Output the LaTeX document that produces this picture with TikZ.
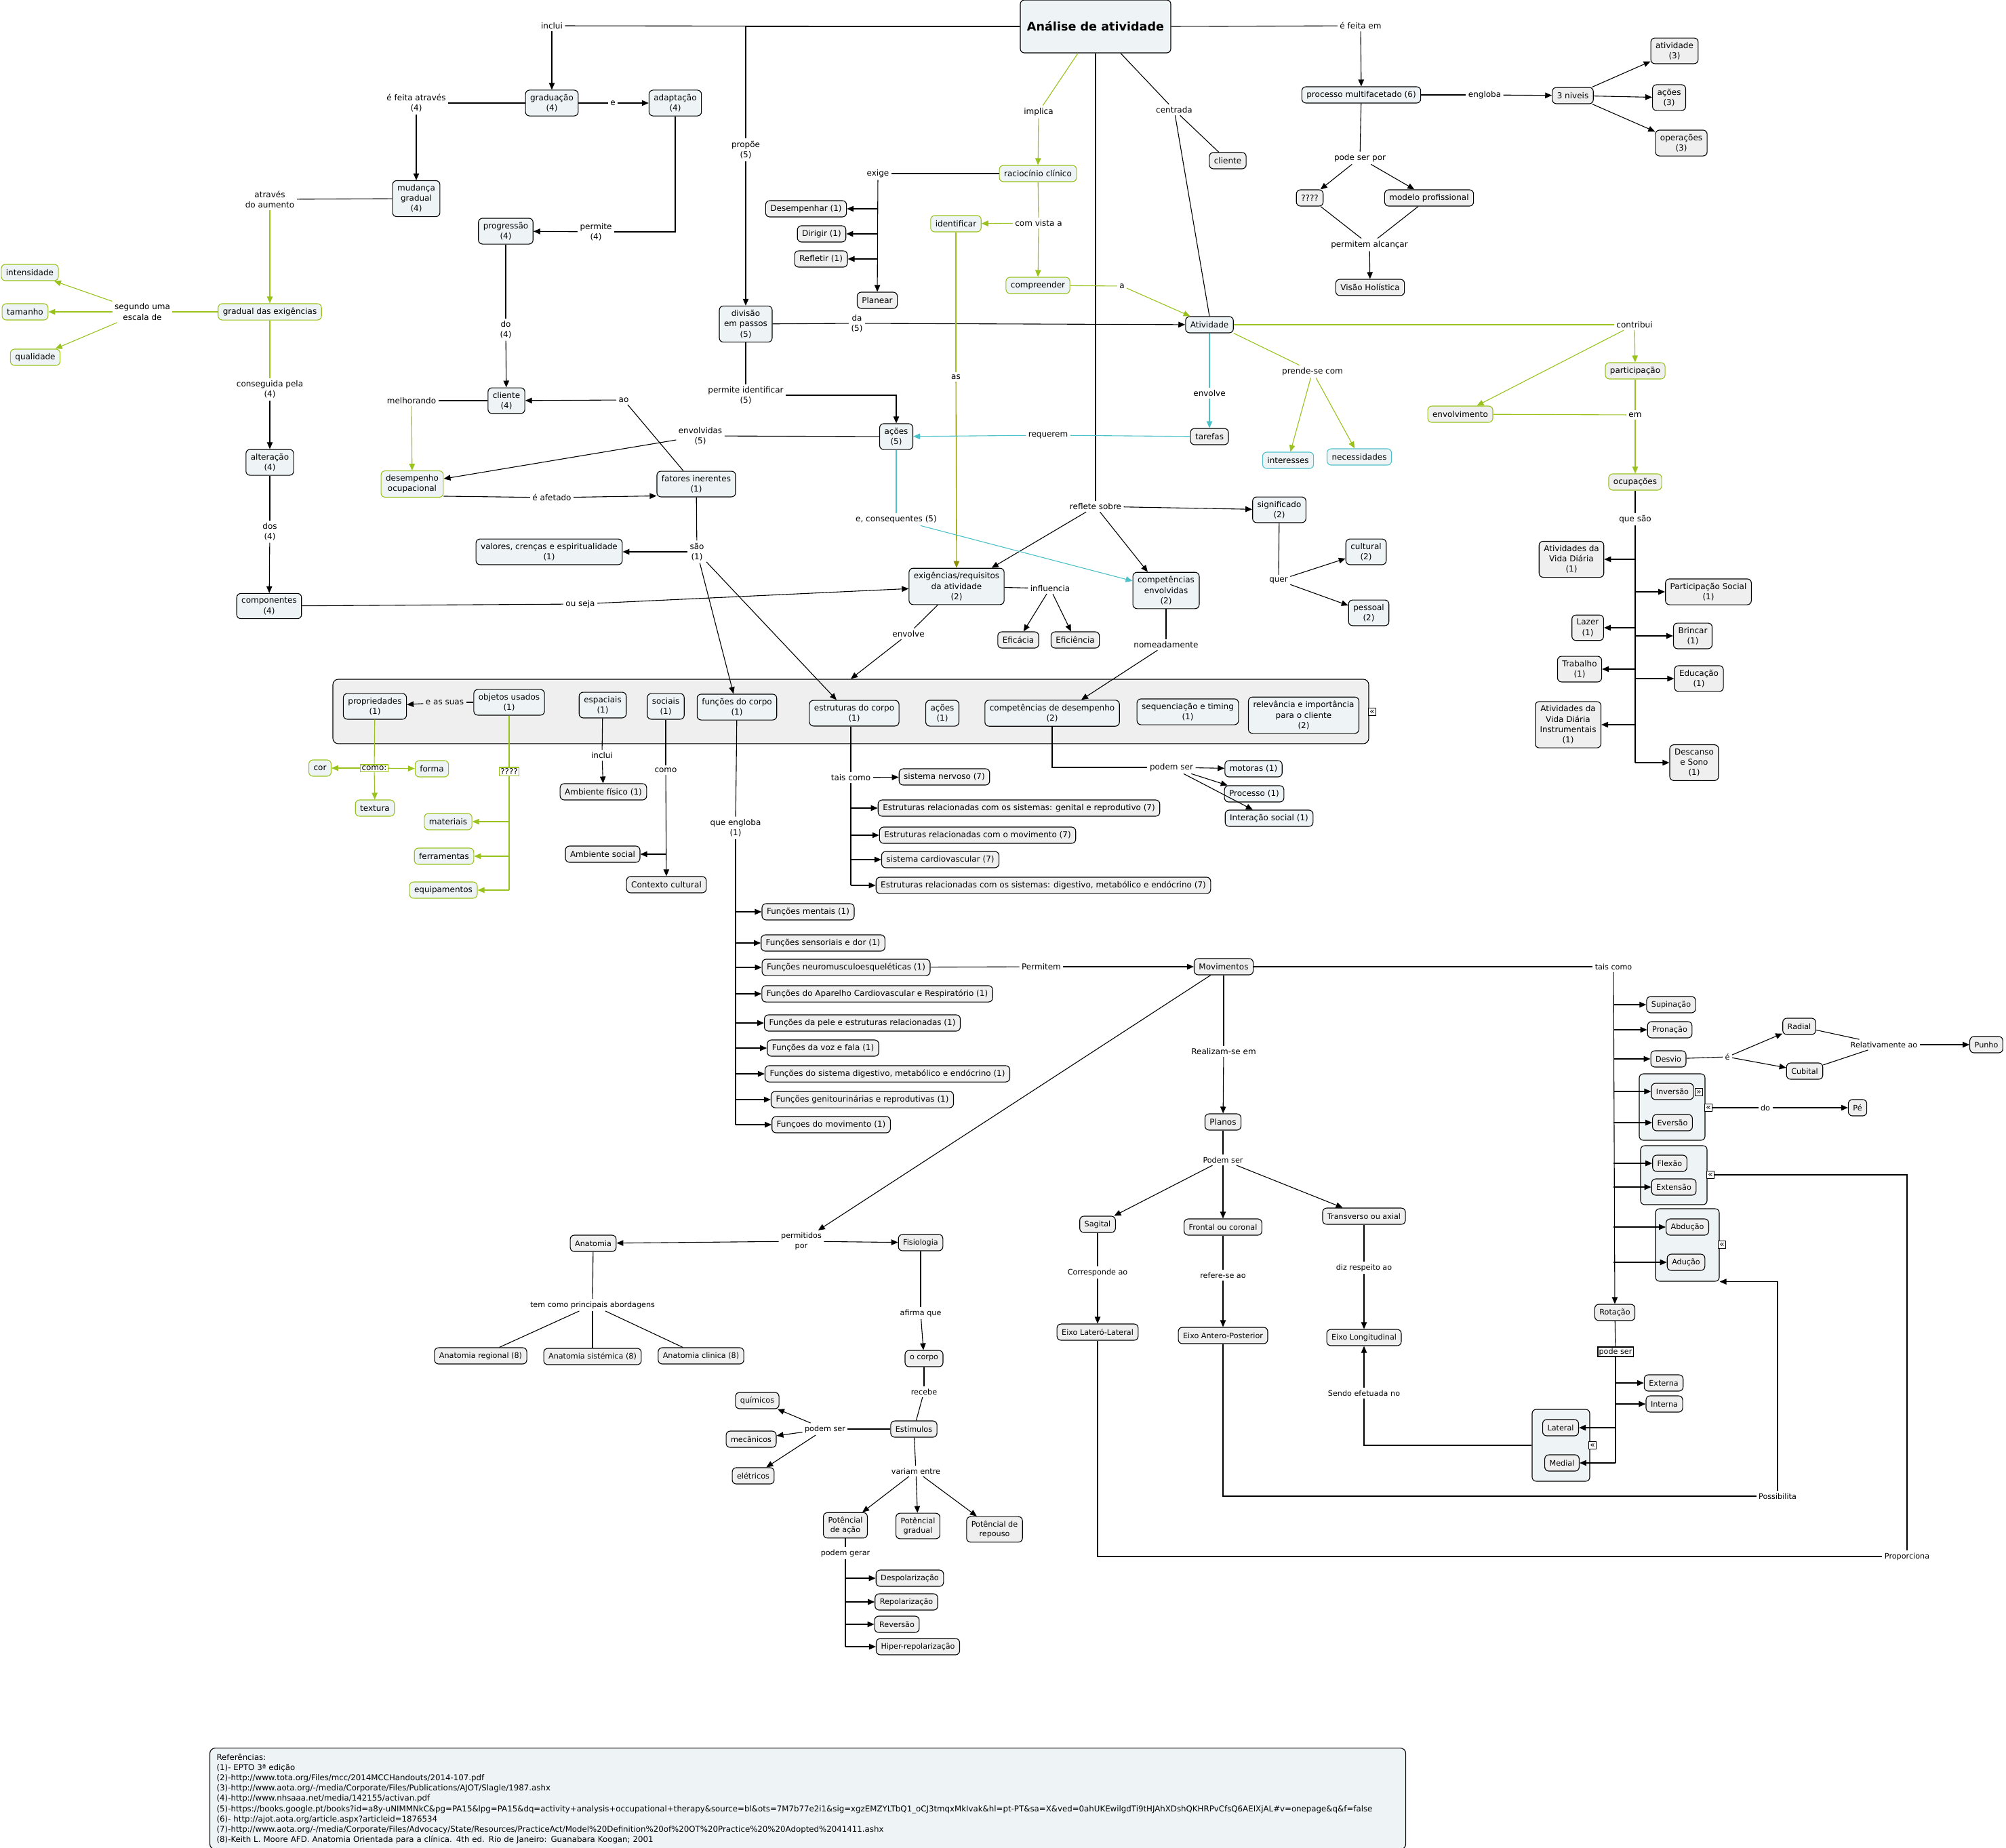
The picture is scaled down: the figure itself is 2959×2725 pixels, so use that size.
\documentclass[tikz,border=0pt]{standalone}
\usepackage{fontspec}
\setmainfont{DejaVu Sans}
\usepackage{xcolor}
\usetikzlibrary{arrows.meta}
\definecolor{cblue}{HTML}{EEF4F6}
\definecolor{cgrey}{HTML}{EFEFEF}
\definecolor{cgreen}{HTML}{99C31C}
\definecolor{cteal}{HTML}{4DC1C8}
\definecolor{colive}{HTML}{8C8C00}
\newcommand\cmfont{\fontsize{6}{7.6}\selectfont}
\newcommand\cmsmall{\fontsize{5.6}{7.2}\selectfont}
\newcommand\cmtitle{\fontsize{8.8}{10}\selectfont\bfseries}
\begin{document}
\begin{tikzpicture}[x=0.5pt,y=-0.5pt,line width=0.55pt]
\tikzstyle{cn}=[draw=black,fill=cblue,rounded corners=3pt,align=center,inner xsep=3.5pt,inner ysep=3pt,minimum height=12pt,font=\cmfont]
\tikzstyle{cg}=[cn,fill=cgrey]
\tikzstyle{cgn}=[cn,draw=cgreen]
\tikzstyle{cgg}=[cg,draw=cgreen]
\tikzstyle{ct}=[cn,draw=cteal]
\tikzstyle{lb}=[align=center,inner sep=1.5pt,font=\cmfont]
\tikzstyle{lbg}=[lb,draw=cgreen,fill=white,inner sep=0.8pt]
\tikzstyle{lbk}=[lb,draw=black,fill=white,inner sep=0.8pt]
\tikzstyle{sm}=[font=\cmsmall]
\tikzstyle{grp}=[draw=black,fill=cblue,rounded corners=3pt,inner sep=0pt]
\tikzstyle{contbox}=[draw=black,fill=cgrey,rounded corners=4pt,inner sep=0pt]
\tikzstyle{icon}=[draw=black,fill=white,inner sep=0.4pt,minimum size=5.5pt,font=\fontsize{6}{6}\selectfont]
\tikzstyle{refbox}=[draw=black,fill=cblue,rounded corners=4pt,align=left,text width=872pt,inner xsep=5pt,inner ysep=4pt,minimum height=72pt,font=\fontsize{5.9}{7.6}\selectfont]
\tikzstyle{arr}=[-{Triangle[length=5pt,width=4.2pt]}]
\tikzstyle{gline}=[cgreen]
\tikzstyle{garr}=[arr,cgreen]
\tikzstyle{tline}=[cteal]
\tikzstyle{tarr}=[arr,cteal]
\tikzstyle{oarr}=[arr,colive]
\fill[white] (0,0) rectangle (2959,2725);
\useasboundingbox (0,0) rectangle (2959,2725);
\node[contbox,minimum width=764pt,minimum height=47.5pt] (cont) at (1255,1049.5) {};
\node[grp,minimum width=48.5pt,minimum height=49pt] (grp1) at (2466.5,1633) {};
\node[grp,minimum width=49pt,minimum height=43.5pt] (grp2) at (2469,1733.5) {};
\node[grp,minimum width=47pt,minimum height=53.5pt] (grp3) at (2489,1836.5) {};
\node[grp,minimum width=42.5pt,minimum height=53pt] (grp4) at (2302.5,2132) {};
\node[cn,font=\cmtitle,minimum width=111pt,minimum height=39pt] (ana) at (1616,39) {Análise de atividade};
\node[lb] (inclui) at (814,38) {inclui};
\node[lb] (propoe) at (1100,221) {propõe\\(5)};
\node[lb] (implica) at (1532,165) {implica};
\node[lb] (centrada) at (1732,162) {centrada};
\node[lb] (efeita) at (2007,38) {é feita em};
\node[cn] (grad) at (814,152) {graduação\\(4)};
\node[cn] (adapt) at (996,152) {adaptação\\(4)};
\node[lb] (lbe) at (904,152) {e};
\node[lb] (efeita2) at (614,152) {é feita através\\(4)};
\node[cn] (mud) at (614,293) {mudança\\gradual\\(4)};
\node[lb] (permite) at (879,342) {permite\\(4)};
\node[cn] (prog) at (746,341) {progressão\\(4)};
\node[lb] (atraves) at (398,294) {através\\do aumento};
\node[cgn] (gradex) at (398,460) {gradual das exigências};
\node[lb] (segundo) at (210,460) {segundo uma\\escala de};
\node[cgn] (intens) at (44,402) {intensidade};
\node[cgn] (tam) at (37,460) {tamanho};
\node[cgn] (qual) at (52,527) {qualidade};
\node[lb] (conseg) at (398,574) {conseguida pela\\(4)};
\node[cn] (alter) at (398,682) {alteração\\(4)};
\node[lb] (dos) at (398,784) {dos\\(4)};
\node[cn] (comp) at (397,894) {componentes\\(4)};
\node[lb] (ouseja) at (856,891) {ou seja};
\node[lb] (do4) at (746,486) {do\\(4)};
\node[cn] (cli4) at (747,591) {cliente\\(4)};
\node[lb] (melh) at (607,591) {melhorando};
\node[cgn] (desemp) at (608,714) {desempenho\\ocupacional};
\node[lb] (ao) at (920,590) {ao};
\node[lb] (envolv5) at (1033,643) {envolvidas\\(5)};
\node[lb] (afet) at (814,734) {é afetado};
\node[cn] (fat) at (1027,714) {fatores inerentes\\(1)};
\node[lb] (sao) at (1028,814) {são\\(1)};
\node[cn] (valores) at (810,814) {valores, crenças e espiritualidade\\(1)};
\node[cn] (div) at (1100,478) {divisão\\em passos\\(5)};
\node[lb] (da) at (1264,477) {da\\(5)};
\node[lb] (permid) at (1100,583) {permite identificar\\(5)};
\node[cn] (acoes5) at (1322,644) {ações\\(5)};
\node[cgn] (rac) at (1531,256) {raciocínio clínico};
\node[lb] (exige) at (1295,256) {exige};
\node[cg] (desemph) at (1189,308) {Desempenhar (1)};
\node[cg] (dirigir) at (1212,345) {Dirigir (1)};
\node[cg] (refletir) at (1211,382) {Refletir (1)};
\node[cg] (planear) at (1294,443) {Planear};
\node[lb] (comvista) at (1532,329) {com vista a};
\node[cgn] (ident) at (1410,330) {identificar};
\node[cgn] (compr) at (1531,421) {compreender};
\node[lb] (lba) at (1655,422) {a};
\node[cn] (ativ) at (1784,479) {Atividade};
\node[cg] (cliente) at (1811,237) {cliente};
\node[lb] (lbas) at (1410,556) {as};
\node[cg] (tarefas) at (1784,644) {tarefas};
\node[lb] (requerem) at (1546,642) {requerem};
\node[lb] (envolve) at (1784,580) {envolve};
\node[lb] (prende) at (1936,548) {prende-se com};
\node[ct] (inter) at (1900,679) {interesses};
\node[ct] (neces) at (2005,674) {necessidades};
\node[lb] (contrib) at (2411,479) {contribui};
\node[cgg] (envolvim) at (2154,611) {envolvimento};
\node[cgg] (partic) at (2412,547) {participação};
\node[lb] (em) at (2412,612) {em};
\node[cgg] (ocup) at (2412,711) {ocupações};
\node[lb] (quesao) at (2412,766) {que são};
\node[cg] (avd) at (2318,825) {Atividades da\\Vida Diária\\(1)};
\node[cg] (partsoc) at (2520,873) {Participação Social\\(1)};
\node[cg] (lazer) at (2342,926) {Lazer\\(1)};
\node[cg] (brincar) at (2497,938) {Brincar\\(1)};
\node[cg] (trab) at (2330,987) {Trabalho\\(1)};
\node[cg] (educ) at (2506,1001) {Educação\\(1)};
\node[cg] (avdi) at (2313,1069) {Atividades da\\Vida Diária\\Instrumentais\\(1)};
\node[cg] (desc) at (2499,1125) {Descanso\\e Sono\\(1)};
\node[cn] (processo) at (2008,140) {processo multifacetado (6)};
\node[lb] (engloba) at (2190,140) {engloba};
\node[cg] (niveis) at (2320,141) {3 niveis};
\node[cg] (ativ3) at (2470,75) {atividade\\(3)};
\node[cg] (acoes3) at (2462,144) {ações\\(3)};
\node[cg] (oper3) at (2480,211) {operações\\(3)};
\node[lb] (podeser) at (2006,233) {pode ser por};
\node[cg] (qqq) at (1932,292) {????};
\node[cg] (modelo) at (2108,292) {modelo profissional};
\node[lb] (permal) at (2020,361) {permitem alcançar};
\node[cg] (visao) at (2021,424) {Visão Holística};
\node[lb] (reflete) at (1616,747) {reflete sobre};
\node[cn] (exig) at (1411,865) {exigências/requisitos\\da atividade\\(2)};
\node[cn] (compenv) at (1720,871) {competências\\envolvidas\\(2)};
\node[cn] (signif) at (1887,752) {significado\\(2)};
\node[lb] (quer) at (1886,856) {quer};
\node[cn] (cult) at (2015,814) {cultural\\(2)};
\node[cn] (pess) at (2019,904) {pessoal\\(2)};
\node[lb] (consq) at (1322,766) {e, consequentes (5)};
\node[lb] (influ) at (1549,868) {influencia};
\node[cg] (efica) at (1502,944) {Eficácia};
\node[cg] (efici) at (1586,944) {Eficiência};
\node[lb] (envolve2) at (1340,935) {envolve};
\node[lb] (nomead) at (1720,951) {nomeadamente};
\node[cn] (prop) at (553,1042) {propriedades\\(1)};
\node[cn] (objetos) at (751,1036) {objetos usados\\(1)};
\node[lb] (easuas) at (656,1036) {e as suas};
\node[cn] (espac) at (889,1040) {espaciais\\(1)};
\node[cn] (sociais) at (982,1042) {sociais\\(1)};
\node[cn] (funcorpo) at (1087,1043) {funções do corpo\\(1)};
\node[cn] (estrut) at (1260,1052) {estruturas do corpo\\(1)};
\node[cn] (acoes1) at (1390,1052) {ações\\(1)};
\node[cn] (compdes) at (1552,1052) {competências de desempenho\\(2)};
\node[cn] (seq) at (1752,1050) {sequenciação e timing\\(1)};
\node[cn] (relev) at (1923,1055) {relevância e importância\\para o cliente\\(2)};
\node[icon] (ic0) at (2024,1050) {«};
\node[lbg] (como) at (552,1133) {como:};
\node[cgn] (cor) at (472,1133) {cor};
\node[cgn] (forma) at (637,1134) {forma};
\node[cgn] (textura) at (553,1192) {textura};
\node[lbg] (qqq2) at (751,1138) {????};
\node[cgn] (mater) at (661,1212) {materiais};
\node[cgn] (ferr) at (655,1263) {ferramentas};
\node[cgn] (equip) at (654,1313) {equipamentos};
\node[lb] (inclui2) at (888,1114) {inclui};
\node[cg] (ambfis) at (890,1168) {Ambiente físico (1)};
\node[lb] (como2) at (982,1136) {como};
\node[cg] (ambsoc) at (889,1260) {Ambiente social};
\node[cg] (contcult) at (983,1305) {Contexto cultural};
\node[lb] (engloba2) at (1085,1221) {que engloba\\(1)};
\node[cg] (fm) at (1192,1345) {Funções mentais (1)};
\node[cg] (fs) at (1214,1391) {Funções sensoriais e dor (1)};
\node[cg] (fn) at (1248,1427) {Funções neuromusculoesqueléticas (1)};
\node[cg] (fc) at (1294,1466) {Funções do Aparelho Cardiovascular e Respiratório (1)};
\node[cg] (fp) at (1272,1509) {Funções da pele e estruturas relacionadas (1)};
\node[cg] (fv) at (1214,1546) {Funções da voz e fala (1)};
\node[cg] (fd) at (1309,1584) {Funções do sistema digestivo, metabólico e endócrino (1)};
\node[cg] (fg) at (1272,1622) {Funções genitourinárias e reprodutivas (1)};
\node[cg] (fmov) at (1226,1659) {Funçoes do movimento (1)};
\node[lb] (taiscomo) at (1255,1147) {tais como};
\node[cg] (sn) at (1393,1146) {sistema nervoso (7)};
\node[cg] (eg) at (1503,1192) {Estruturas relacionadas com os sistemas: genital e reprodutivo (7)};
\node[cg] (em7) at (1442,1232) {Estruturas relacionadas com o movimento (7)};
\node[cg] (sc) at (1387,1268) {sistema cardiovascular (7)};
\node[cg] (ed) at (1539,1306) {Estruturas relacionadas com os sistemas: digestivo, metabólico e endócrino (7)};
\node[lb] (podemser) at (1728,1132) {podem ser};
\node[cn] (motoras) at (1849,1134) {motoras (1)};
\node[cn] (processo1) at (1850,1171) {Processo (1)};
\node[cn] (intsoc) at (1872,1207) {Interação social (1)};
\node[lb] (permitem) at (1536,1426) {Permitem};
\node[cg] (mov) at (1805,1426) {Movimentos};
\node[lb] (realiz) at (1805,1551) {Realizam-se em};
\node[cg] (planos) at (1804,1655) {Planos};
\node[lb,sm] (permpor) at (1182,1831) {permitidos\\por};
\node[cg,sm] (anat) at (875,1834) {Anatomia};
\node[cg,sm] (fisio) at (1358,1833) {Fisiologia};
\node[lb,sm] (temcomo) at (874,1925) {tem como principais abordagens};
\node[cg,sm] (areg) at (709,2000) {Anatomia regional (8)};
\node[cg,sm] (asis) at (874,2001) {Anatomia sistémica (8)};
\node[cg,sm] (acli) at (1034,2000) {Anatomia clinica (8)};
\node[lb,sm] (afirma) at (1358,1937) {afirma que};
\node[cg,sm] (ocorpo) at (1363,2004) {o corpo};
\node[lb,sm] (recebe) at (1363,2053) {recebe};
\node[cg,sm] (estim) at (1348,2108) {Estímulos};
\node[lb,sm] (podemser2) at (1217,2108) {podem ser};
\node[cg,sm] (quim) at (1117,2066) {químicos};
\node[cg,sm] (mec) at (1108,2123) {mecânicos};
\node[cg,sm] (elet) at (1111,2177) {elétricos};
\node[lb,sm] (variam) at (1351,2170) {variam entre};
\node[cg,sm] (pacao) at (1247,2250) {Potêncial\\de ação};
\node[cg,sm] (pgrad) at (1354,2251) {Potêncial\\gradual};
\node[cg,sm] (prep) at (1467,2256) {Potêncial de\\repouso};
\node[lb,sm] (podemgerar) at (1247,2291) {podem gerar};
\node[cg,sm] (despol) at (1342,2328) {Despolarização};
\node[cg,sm] (repol) at (1337,2363) {Repolarização};
\node[cg,sm] (revers) at (1323,2396) {Reversão};
\node[cg,sm] (hiper) at (1354,2429) {Hiper-repolarização};
\node[lb,sm] (podemser3) at (1804,1711) {Podem ser};
\node[cg,sm] (sag) at (1619,1806) {Sagital};
\node[cg,sm] (front) at (1804,1810) {Frontal ou coronal};
\node[cg,sm] (transv) at (2012,1794) {Transverso ou axial};
\node[lb,sm] (corresp) at (1619,1877) {Corresponde ao};
\node[lb,sm] (refere) at (1804,1881) {refere-se ao};
\node[lb,sm] (diz) at (2012,1870) {diz respeito ao};
\node[cg,sm] (eixoll) at (1619,1965) {Eixo Lateró-Lateral};
\node[cg,sm] (eixoap) at (1804,1970) {Eixo Antero-Posterior};
\node[cg,sm] (eixolong) at (2012,1973) {Eixo Longitudinal};
\node[lb,sm] (sendo) at (2012,2055) {Sendo efetuada no};
\node[lb,sm] (possib) at (2622,2207) {Possibilita};
\node[lb,sm] (proporc) at (2813,2296) {Proporciona};
\node[lb,sm] (taiscomo2) at (2380,1426) {tais como};
\node[cg,sm] (sup) at (2465,1482) {Supinação};
\node[cg,sm] (pron) at (2463,1519) {Pronação};
\node[cg,sm] (desvio) at (2461,1562) {Desvio};
\node[cg,sm] (inv) at (2467,1610) {Inversão};
\node[cg,sm] (ever) at (2467,1656) {Eversão};
\node[cg,sm] (flex) at (2463,1716) {Flexão};
\node[cg,sm] (ext) at (2469,1751) {Extensão};
\node[cg,sm] (abd) at (2489,1810) {Abdução};
\node[cg,sm] (adu) at (2487,1862) {Adução};
\node[icon] (ic1b) at (2506,1611) {»};
\node[icon] (ic1) at (2520,1634) {«};
\node[icon] (ic2) at (2523,1733) {«};
\node[icon] (ic3) at (2540,1836) {«};
\node[icon] (ic4) at (2349,2132) {«};
\node[lb,sm] (lbdo) at (2604,1634) {do};
\node[cg,sm] (pe) at (2740,1634) {Pé};
\node[lb,sm] (lbe2) at (2548,1559) {é};
\node[cg,sm] (radial) at (2654,1514) {Radial};
\node[cg,sm] (cubital) at (2662,1580) {Cubital};
\node[lb,sm] (relat) at (2779,1541) {Relativamente ao};
\node[cg,sm] (punho) at (2930,1541) {Punho};
\node[cg,sm] (rot) at (2382,1936) {Rotação};
\node[lbk,sm] (podeser2) at (2383,1994) {pode ser};
\node[cg,sm] (externa) at (2454,2040) {Externa};
\node[cg,sm] (interna) at (2455,2071) {Interna};
\node[cg,sm] (lateral) at (2302,2106) {Lateral};
\node[cg,sm] (medial) at (2304,2158) {Medial};
\node[refbox,anchor=north west] (refs) at (309,2578) {Referências:\\
(1)- EPTO 3ª edição\\
(2)-http://www.tota.org/Files/mcc/2014MCCHandouts/2014-107.pdf\\
(3)-http://www.aota.org/-/media/Corporate/Files/Publications/AJOT/Slagle/1987.ashx\\
(4)-http://www.nhsaaa.net/media/142155/activan.pdf\\
(5)-https://books.google.pt/books?id=a8y-uNIMMNkC\&pg=PA15\&lpg=PA15\&dq=activity+analysis+occupational+therapy\&source=bl\&ots=7M7b77e2i1\&sig=xgzEMZYLTbQ1\_oCJ3tmqxMkIvak\&hl=pt-PT\&sa=X\&ved=0ahUKEwilgdTi9tHJAhXDshQKHRPvCfsQ6AEIXjAL\#v=onepage\&q\&f=false\\
(6)- http://ajot.aota.org/article.aspx?articleid=1876534\\
(7)-http://www.aota.org/-/media/Corporate/Files/Advocacy/State/Resources/PracticeAct/Model\%20Definition\%20of\%20OT\%20Practice\%20\%20Adopted\%2041411.ashx\\
(8)-Keith L. Moore AFD. Anatomia Orientada para a clínica. 4th ed. Rio de Janeiro: Guanabara Koogan; 2001};
\draw (ana.west) -- (inclui);
\draw[arr] (inclui) -- (grad);
\draw (ana.west) -| (propoe.north);
\draw[arr] (propoe) -- (div);
\draw[gline] ([xshift=-13pt]ana.south) -- (implica);
\draw[garr] (implica) -- (rac);
\draw (ana.south) -- (reflete);
\draw ([xshift=18.5pt]ana.south) -- (centrada);
\draw (centrada) -- (cliente);
\draw (centrada) -- (ativ.north);
\draw (ana.east) -- (efeita);
\draw[arr] (efeita) -- (processo);
\draw (processo) -- (engloba);
\draw[arr] (engloba) -- (niveis);
\draw[arr] (niveis) -- (ativ3);
\draw[arr] (niveis) -- (acoes3);
\draw[arr] (niveis) -- (oper3);
\draw (processo) -- (podeser);
\draw[arr] (podeser) -- (qqq);
\draw[arr] (podeser) -- (modelo);
\draw (qqq) -- (permal);
\draw (modelo) -- (permal);
\draw[arr] (permal) -- (visao);
\draw (grad) -- (lbe);
\draw[arr] (lbe) -- (adapt);
\draw (grad) -- (efeita2);
\draw[arr] (efeita2) -- (mud);
\draw (adapt.south) |- (permite.east);
\draw[arr] (permite) -- (prog);
\draw (mud) -- (atraves);
\draw[garr] (atraves) -- (gradex);
\draw[gline] (gradex) -- (segundo);
\draw[garr] (segundo) -- (intens);
\draw[garr] (segundo) -- (tam);
\draw[garr] (segundo) -- (qual);
\draw[gline] (gradex) -- (conseg);
\draw[arr] (conseg) -- (alter);
\draw (alter) -- (dos);
\draw[arr] (dos) -- (comp);
\draw (comp) -- (ouseja);
\draw[arr] (ouseja) -- (exig);
\draw (prog) -- (do4);
\draw[arr] (do4) -- (cli4);
\draw (cli4) -- (melh);
\draw[garr] (melh) -- (desemp);
\draw ([xshift=-9.5pt]fat.north) -- (ao);
\draw[arr] (ao) -- (cli4);
\draw (acoes5) -- (envolv5);
\draw[arr] (envolv5) -- (desemp);
\draw ([yshift=1pt]desemp.south east) -- (afet);
\draw[arr] (afet) -- ([yshift=1pt]fat.south west);
\draw (fat) -- (sao);
\draw[arr] (sao) -- (valores);
\draw[arr] (sao) -- (funcorpo);
\draw[arr] (sao) -- ([xshift=-13pt]estrut.north);
\draw (div) -- (da);
\draw[arr] (da) -- (ativ);
\draw (div) -- (permid);
\draw[arr] (permid.east) -| (acoes5.north);
\draw (rac) -- (exige);
\draw[arr] (exige) -- (planear);
\foreach \n in {desemph,dirigir,refletir}
  \draw[arr] (exige.south |- \n.east) -- (\n.east);
\draw[gline] (rac) -- (comvista);
\draw[garr] (comvista) -- (ident);
\draw[garr] (comvista) -- (compr);
\draw[gline] (compr) -- (lba);
\draw[garr] (lba) -- (ativ);
\draw[gline] (ident) -- (lbas);
\draw[oarr] (lbas) -- (exig);
\draw[tline] (ativ) -- (envolve);
\draw[tarr] (envolve) -- (tarefas);
\draw[tline] (tarefas) -- (requerem);
\draw[tarr] (requerem) -- (acoes5);
\draw[gline] (ativ.south east) -- (prende);
\draw[garr] (prende) -- (inter);
\draw[garr] (prende) -- (neces);
\draw[gline] (ativ) -- (contrib);
\draw[garr] (contrib) -- (envolvim);
\draw[garr] (contrib) -- (partic);
\draw[gline] (partic) -- (em);
\draw[gline] (envolvim) -- (em);
\draw[garr] (em) -- (ocup);
\draw (ocup) -- (quesao);
\draw (quesao) -- (quesao.south |- desc.west);
\foreach \n in {avd,lazer,trab,avdi}
  \draw[arr] (quesao.south |- \n.east) -- (\n.east);
\foreach \n in {partsoc,brincar,educ,desc}
  \draw[arr] (quesao.south |- \n.west) -- (\n.west);
\draw[arr] (reflete) -- ([xshift=-9.5pt]exig.north east);
\draw[arr] (reflete) -- ([xshift=-13.5pt]compenv.north);
\draw[arr] (reflete) -- (signif);
\draw (signif) -- (quer);
\draw[arr] (quer) -- (cult);
\draw[arr] (quer) -- (pess);
\draw[tline] (acoes5) -- (consq);
\draw[tarr] (consq) -- ([yshift=7pt]compenv.west);
\draw (exig) -- (influ);
\draw[arr] (influ) -- (efica);
\draw[arr] (influ) -- (efici);
\draw (exig) -- (envolve2);
\draw[arr] (envolve2) -- (cont.north);
\draw (compenv) -- (nomead);
\draw[arr] (nomead) -- ([xshift=21.5pt]compdes.north);
\draw (objetos) -- (easuas);
\draw[arr] (easuas) -- (prop);
\draw[gline] (prop) -- (como);
\draw[garr] (como) -- (cor);
\draw[garr] (como) -- (forma);
\draw[garr] (como) -- (textura);
\draw[gline] (objetos) -- (qqq2);
\draw[gline] (qqq2) -- (qqq2.south |- equip.east);
\foreach \n in {mater,ferr,equip}
  \draw[garr] (qqq2.south |- \n.east) -- (\n.east);
\draw (espac) -- (inclui2);
\draw[arr] (inclui2) -- (ambfis);
\draw (sociais) -- (como2);
\draw[arr] (como2) -- (contcult);
\draw[arr] (como2.south |- ambsoc.east) -- (ambsoc.east);
\draw (funcorpo) -- (engloba2);
\draw (engloba2) -- (engloba2.south |- fmov.west);
\foreach \n in {fm,fs,fn,fc,fp,fv,fd,fg,fmov}
  \draw[arr] (engloba2.south |- \n.west) -- (\n.west);
\draw (taiscomo.north |- estrut.south) -- (taiscomo);
\draw[arr] (taiscomo) -- (sn);
\draw (taiscomo) -- (taiscomo.south |- ed.west);
\foreach \n in {eg,em7,sc,ed}
  \draw[arr] (taiscomo.south |- \n.west) -- (\n.west);
\draw (compdes.south) |- (podemser.west);
\draw[arr] (podemser) -- (motoras);
\draw[arr] (podemser) -- (processo1);
\draw[arr] (podemser) -- (intsoc);
\draw (fn) -- (permitem);
\draw[arr] (permitem) -- (mov);
\draw (mov) -- (realiz);
\draw[arr] (realiz) -- (planos);
\draw[arr] (mov) -- (permpor);
\draw[arr] (permpor) -- (anat);
\draw[arr] (permpor) -- (fisio);
\draw (anat) -- (temcomo);
\foreach \n in {areg,asis,acli}
  \draw (temcomo) -- (\n);
\draw (fisio) -- (afirma);
\draw[arr] (afirma) -- (ocorpo);
\draw (ocorpo) -- (recebe);
\draw (recebe) -- (estim);
\draw (estim) -- (podemser2);
\foreach \n in {quim,mec,elet}
  \draw[arr] (podemser2) -- (\n);
\draw (estim) -- (variam);
\foreach \n in {pacao,pgrad,prep}
  \draw[arr] (variam) -- (\n);
\draw (pacao) -- (podemgerar);
\draw (podemgerar) -- (podemgerar.south |- hiper.west);
\foreach \n in {despol,repol,revers,hiper}
  \draw[arr] (podemgerar.south |- \n.west) -- (\n.west);
\draw (planos) -- (podemser3);
\foreach \n in {sag,front,transv}
  \draw[arr] (podemser3) -- (\n);
\draw (sag) -- (corresp);
\draw[arr] (corresp) -- (eixoll);
\draw (front) -- (refere);
\draw[arr] (refere) -- (eixoap);
\draw (transv) -- (diz);
\draw[arr] (diz) -- (eixolong);
\draw (grp4.west) -| (sendo.south);
\draw[arr] (sendo) -- (eixolong);
\draw (eixoap.south) |- (possib.west);
\draw[arr] (possib.north) |- (grp3.south east);
\draw (eixoll.south) |- (proporc.west);
\draw (proporc.north) |- (ic2.east);
\draw (mov) -- (taiscomo2);
\draw[arr] (taiscomo2) -- (rot);
\foreach \n in {sup,pron,desvio,inv,ever,flex,ext,abd,adu}
  \draw[arr] (taiscomo2.south |- \n.west) -- (\n.west);
\draw (desvio) -- (lbe2);
\draw[arr] (lbe2) -- (radial);
\draw[arr] (lbe2) -- (cubital);
\draw (radial) -- (relat);
\draw (cubital) -- (relat);
\draw[arr] (relat) -- (punho);
\draw (ic1) -- (lbdo);
\draw[arr] (lbdo) -- (pe);
\draw (rot) -- (podeser2);
\draw (podeser2) -- (podeser2.south |- medial.east);
\foreach \n in {externa,interna}
  \draw[arr] (podeser2.south |- \n.west) -- (\n.west);
\foreach \n in {lateral,medial}
  \draw[arr] (podeser2.south |- \n.east) -- (\n.east);
\end{tikzpicture}
\end{document}
